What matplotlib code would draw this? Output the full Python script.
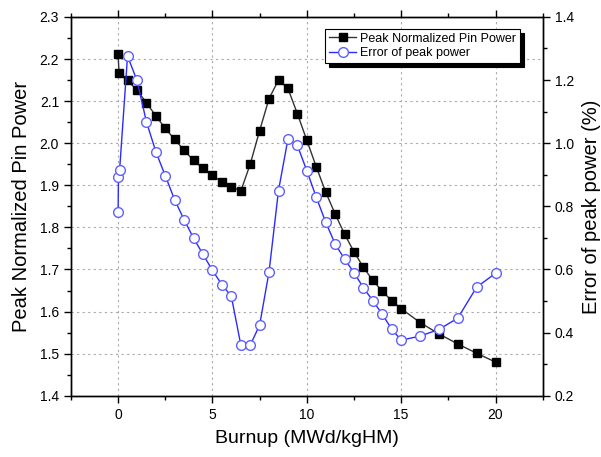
import matplotlib
matplotlib.use("Agg")
import matplotlib.pyplot as plt
from matplotlib.ticker import MultipleLocator

plt.rcParams['font.family'] = ['Liberation Sans', 'DejaVu Sans']

# Peak normalized pin power (left axis)
burnup_pin = [0, 0.05, 0.5, 1, 1.5, 2, 2.5, 3, 3.5, 4, 4.5, 5, 5.5, 6, 6.5,
              7, 7.5, 8, 8.5, 9, 9.5, 10, 10.5, 11, 11.5, 12, 12.5, 13, 13.5,
              14, 14.5, 15, 16, 17, 18, 19, 20]
pin_power = [2.212, 2.166, 2.149, 2.126, 2.096, 2.065, 2.035, 2.009, 1.983,
             1.959, 1.940, 1.924, 1.908, 1.897, 1.886, 1.950, 2.030, 2.106,
             2.150, 2.130, 2.070, 2.007, 1.944, 1.884, 1.832, 1.784, 1.742,
             1.705, 1.674, 1.648, 1.626, 1.607, 1.574, 1.547, 1.523, 1.501,
             1.480]

# Error of peak power (right axis, %)
burnup_err = [0, 0.02, 0.08, 0.5, 1, 1.5, 2, 2.5, 3, 3.5, 4, 4.5, 5, 5.5, 6,
              6.5, 7, 7.5, 8, 8.5, 9, 9.5, 10, 10.5, 11, 11.5, 12, 12.5, 13,
              13.5, 14, 14.5, 15, 16, 17, 18, 19, 20]
peak_error = [0.782, 0.894, 0.915, 1.276, 1.199, 1.068, 0.973, 0.897, 0.820,
              0.757, 0.699, 0.648, 0.597, 0.552, 0.515, 0.362, 0.360, 0.424,
              0.593, 0.850, 1.013, 0.993, 0.913, 0.829, 0.750, 0.681, 0.633,
              0.590, 0.542, 0.501, 0.458, 0.411, 0.376, 0.389, 0.410, 0.446,
              0.544, 0.588]

fig = plt.figure(figsize=(6.01, 4.57), dpi=100)
ax = fig.add_axes([0.118, 0.134, 0.785, 0.829])
ax2 = ax.twinx()

l1, = ax.plot(burnup_pin, pin_power, color='#333333', lw=1, marker='s',
              markersize=6, markerfacecolor='black', markeredgecolor='black',
              label='Peak Normalized Pin Power', zorder=3)
l2, = ax2.plot(burnup_err, peak_error, color='#2b2bff', lw=1, marker='o',
               markersize=7, markerfacecolor='white', markeredgecolor='#6060ff',
               label='Error of peak power', zorder=3)

ax.set_xlim(-2.5, 22.5)
ax.set_ylim(1.4, 2.3)
ax2.set_ylim(0.2, 1.4)

ax.xaxis.set_major_locator(MultipleLocator(5))
ax.xaxis.set_minor_locator(MultipleLocator(2.5))
ax.yaxis.set_major_locator(MultipleLocator(0.1))
ax.yaxis.set_minor_locator(MultipleLocator(0.05))
ax2.yaxis.set_major_locator(MultipleLocator(0.2))
ax2.yaxis.set_minor_locator(MultipleLocator(0.1))

ax.grid(True, which='major', linestyle=(0, (2, 3)), color='#aaaaaa', lw=0.8)

ax.tick_params(axis='both', which='major', labelsize=10, direction='out',
               length=5, width=1)
ax.tick_params(axis='both', which='minor', direction='out', length=3, width=1)
ax.tick_params(axis='x', which='both', top=True)
ax2.tick_params(axis='y', which='major', labelsize=10, direction='out',
                length=5, width=1)
ax2.tick_params(axis='y', which='minor', direction='out', length=3, width=1)

for a in (ax, ax2):
    for s in a.spines.values():
        s.set_linewidth(1)

ax.set_xlabel('Burnup (MWd/kgHM)', fontsize=14, labelpad=6)
ax.set_ylabel('Peak Normalized Pin Power', fontsize=14.5, labelpad=6)
ax2.set_ylabel('Error of peak power (%)', fontsize=14.5, labelpad=6)

leg = ax2.legend(handles=[l1, l2], loc='upper right', bbox_to_anchor=(0.965, 0.985),
                 fontsize=9, frameon=True, fancybox=False, borderpad=0.3,
                 labelspacing=0.2, handlelength=2.2, handletextpad=0.3,
                 shadow={'color': 'black', 'alpha': 1, 'ox': 3, 'oy': -3})
leg.get_frame().set_edgecolor('black')
leg.get_frame().set_linewidth(0.8)

fig.savefig('out.png', dpi=100)
